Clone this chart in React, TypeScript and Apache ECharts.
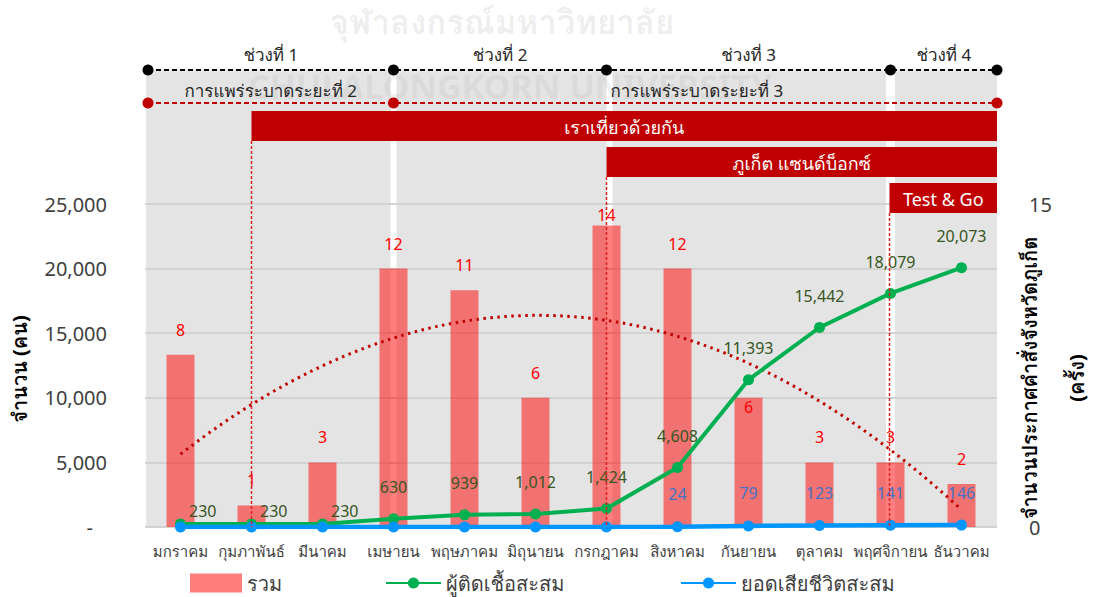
import React, { useEffect, useRef } from "react";
import * as echarts from "echarts";

// Months of 2021 (Thai)
const months = [
  "มกราคม",
  "กุมภาพันธ์",
  "มีนาคม",
  "เมษายน",
  "พฤษภาคม",
  "มิถุนายน",
  "กรกฎาคม",
  "สิงหาคม",
  "กันยายน",
  "ตุลาคม",
  "พฤศจิกายน",
  "ธันวาคม",
];

// Provincial orders issued each month (right axis)
const orderCounts = [8, 1, 3, 12, 11, 6, 14, 12, 6, 3, 3, 2];
// Cumulative infections (left axis)
const cumulativeCases = [230, 230, 230, 630, 939, 1012, 1424, 4608, 11393, 15442, 18079, 20073];
// Cumulative deaths (left axis)
const cumulativeDeaths = [0, 0, 0, 0, 0, 0, 0, 24, 79, 123, 141, 146];
// Months whose death total carries a label
const deathLabelFrom = 7;
// Months whose case label sits to the right of the point
const caseLabelsBeside = [0, 1, 2];

// Axis ranges
const leftMin = 0;
const leftMax = 25000;
const leftStep = 5000;
const rightMin = 0;
const rightMax = 15;
const rightStep = 15;

// Period bands along the top (month index where each boundary sits; -1 = chart edge)
const periodNames = ["ช่วงที่ 1", "ช่วงที่ 2", "ช่วงที่ 3", "ช่วงที่ 4"];
const periodEdges = [-1, 3, 6, 10, -1];
const waveNames = ["การแพร่ระบาดระยะที่ 2", "การแพร่ระบาดระยะที่ 3"];
const waveEdges = [-1, 3, -1];
// Tourism campaigns, starting month index
const campaignNames = ["เราเที่ยวด้วยกัน", "ภูเก็ต แซนด์บ็อกซ์", "Test & Go"];
const campaignStarts = [1, 6, 10];

const seriesNames = ["รวม", "ผู้ติดเชื้อสะสม", "ยอดเสียชีวิตสะสม"];
const leftAxisName = "จำนวน (คน)";
const rightAxisName = ["จำนวนประกาศคำสั่งจังหวัดภูเก็ต", "(ครั้ง)"];
const watermarkTh = "จุฬาลงกรณ์มหาวิทยาลัย";
const watermarkEn = "CHULALONGKORN UNIVERSITY";

const FONT = '"Noto Sans", Tahoma, Loma, Garuda, "Noto Sans Thai Looped", "Noto Sans Thai", sans-serif';
const DARK_RED = "#C00000";
const TEXT = "#404040";

// Second-order least-squares fit of the monthly order counts
function quadraticFit(ys: number[]) {
  const n = ys.length;
  let s0 = 0, s1 = 0, s2 = 0, s3 = 0, s4 = 0, t0 = 0, t1 = 0, t2 = 0;
  ys.forEach((y, i) => {
    const x = i + 1;
    s0 += 1; s1 += x; s2 += x * x; s3 += x ** 3; s4 += x ** 4;
    t0 += y; t1 += x * y; t2 += x * x * y;
  });
  const m = [
    [s0, s1, s2, t0],
    [s1, s2, s3, t1],
    [s2, s3, s4, t2],
  ];
  for (let c = 0; c < 3; c++) {
    for (let r = c + 1; r < 3; r++) {
      const f = m[r][c] / m[c][c];
      for (let k = c; k < 4; k++) m[r][k] -= f * m[c][k];
    }
  }
  const coef = [0, 0, 0];
  for (let r = 2; r >= 0; r--) {
    let v = m[r][3];
    for (let k = r + 1; k < 3; k++) v -= m[r][k] * coef[k];
    coef[r] = v / m[r][r];
  }
  const pts: number[][] = [];
  for (let s = 0; s <= (n - 1) * 10; s++) {
    const x = 1 + s / 10;
    pts.push([x, coef[0] + coef[1] * x + coef[2] * x * x]);
  }
  return pts;
}

export default function App() {
  const ref = useRef<HTMLDivElement>(null);

  useEffect(() => {
    if (!ref.current) return;
    const chart = echarts.init(ref.current, undefined, { renderer: "svg" });

    const barData = orderCounts.map((v, i) => {
      let label: any = { show: true, position: "top", distance: 17 };
      if (i === 8) label = { show: true, position: "insideTop", distance: 1 };
      if (i === 6) label = { show: true, position: "top", distance: 3 };
      return { value: v, label };
    });

    const caseData = cumulativeCases.map((v, i) => ({
      value: v,
      label: caseLabelsBeside.includes(i)
        ? { position: "right", distance: 3, offset: [0, -13] }
        : { position: "top", distance: 18 },
    }));

    const deathData = cumulativeDeaths.map((v, i) => ({
      value: v,
      label: { show: i >= deathLabelFrom },
    }));

    const legendText = { fontSize: 20, lineHeight: 20, color: TEXT, fontFamily: FONT };

    chart.setOption({
      animation: false,
      textStyle: { fontFamily: FONT },
      grid: { left: 145, right: 100, top: 204, bottom: 70, containLabel: false },
      legend: [
        {
          left: 190, top: 573, padding: 0, itemWidth: 52, itemHeight: 19, icon: "rect", itemGap: 5,
          data: [seriesNames[0]],
          textStyle: legendText,
        },
        {
          left: 385, top: 573, padding: 0, itemWidth: 55, itemHeight: 14, itemGap: 5,
          data: [seriesNames[1]],
          textStyle: legendText,
        },
        {
          left: 680, top: 573, padding: 0, itemWidth: 55, itemHeight: 14, itemGap: 5,
          data: [seriesNames[2]],
          textStyle: legendText,
        },
      ],
      xAxis: [
        {
          type: "category",
          data: months,
          axisLine: { show: false },
          axisTick: { show: false },
          axisLabel: { fontSize: 15, color: TEXT, margin: 16, interval: 0, fontFamily: FONT },
        },
        { type: "value", min: 0.5, max: 12.5, show: false },
      ],
      yAxis: [
        {
          type: "value",
          min: leftMin,
          max: leftMax,
          interval: leftStep,
          axisLine: { show: false },
          axisTick: { show: false },
          splitLine: { lineStyle: { color: "#d2d2d2", width: 2 } },
          axisLabel: {
            fontSize: 20,
            color: TEXT,
            margin: 38,
            fontFamily: FONT,
            formatter: (v: number) => (v === 0 ? "{d|-}" : v.toLocaleString("en-US")),
            rich: { d: { fontSize: 20, color: TEXT, padding: [0, 14, 0, 0] } },
          },
        },
        {
          type: "value",
          min: rightMin,
          max: rightMax,
          interval: rightStep,
          axisLine: { show: false },
          axisTick: { show: false },
          splitLine: { show: false },
          axisLabel: { fontSize: 20, color: TEXT, margin: 32, fontFamily: FONT },
        },
      ],
      series: [
        {
          name: seriesNames[0],
          type: "bar",
          yAxisIndex: 1,
          barWidth: 28,
          itemStyle: { color: "rgba(255,0,0,0.5)" },
          label: { color: "#FF0000", fontSize: 16, fontFamily: FONT },
          data: barData,
          z: 2,
        },
        {
          name: "trend",
          type: "line",
          xAxisIndex: 1,
          yAxisIndex: 1,
          showSymbol: false,
          silent: true,
          lineStyle: { color: DARK_RED, width: 3, type: [2.5, 4.5] },
          data: quadraticFit(orderCounts),
          z: 3,
        },
        {
          name: seriesNames[1],
          type: "line",
          symbol: "circle",
          symbolSize: 11,
          itemStyle: { color: "#00B050" },
          lineStyle: { color: "#00B050", width: 4 },
          label: { show: true, color: "#375623", fontSize: 16, fontFamily: FONT, formatter: (p: any) => p.value.toLocaleString("en-US") },
          data: caseData,
          z: 4,
        },
        {
          name: seriesNames[2],
          type: "line",
          symbol: "circle",
          symbolSize: 11,
          itemStyle: { color: "#0096FF" },
          lineStyle: { color: "#0096FF", width: 4.5 },
          label: { color: "#4472C4", fontSize: 16, position: "top", distance: 19, fontFamily: FONT, formatter: (p: any) => p.value.toLocaleString("en-US") },
          data: deathData,
          z: 5,
        },
      ],
    });

    // Annotation layer placed on the category scale
    const xc = (i: number) => chart.convertToPixel({ xAxisIndex: 0 }, i) as number;
    const band = xc(1) - xc(0);
    const plotL = xc(0) - band / 2;
    const plotR = xc(months.length - 1) + band / 2;
    const yZero = chart.convertToPixel({ yAxisIndex: 0 }, 0) as number;
    const edgeX = (e: number, first: boolean) => (e < 0 ? (first ? plotL + 3 : plotR) : xc(e));

    const yPeriod = 70;
    const yWave = 103;
    const campaignRows = [[111, 141], [147, 177], [183, 213]];

    const txt = (x: number, y: number, text: string, size: number, fill: string, extra: any = {}) => ({
      type: "text",
      x,
      y,
      z: extra.z ?? 8,
      silent: true,
      style: {
        text,
        fill,
        fontSize: size,
        lineHeight: extra.lineHeight ?? Math.round(size * 1.1),
        fontFamily: FONT,
        fontWeight: extra.fontWeight || "normal",
        align: extra.align || "center",
        verticalAlign: "middle",
        textAlign: extra.align || "center",
        textVerticalAlign: "middle",
      },
      rotation: extra.rotation || 0,
    });

    const g: any[] = [];

    // Grey panels with white gaps at the period boundaries
    const gaps = [xc(3), xc(6) + 3, xc(10)];
    const gapW = [6, 6, 9];
    const starts = [plotL + 1, ...gaps.map((x, i) => x + gapW[i] / 2)];
    const ends = [...gaps.map((x, i) => x - gapW[i] / 2), plotR];
    starts.forEach((s, i) => {
      g.push({
        type: "rect",
        z: -1,
        silent: true,
        shape: { x: s, y: yPeriod, width: ends[i] - s, height: yZero - yPeriod + 1 },
        style: { fill: "#E4E4E4" },
      });
    });

    // Watermark
    g.push(txt(502, 21, watermarkTh, 33, "rgba(150,150,150,0.16)", { fontWeight: "bold", z: 1, lineHeight: 32 }));
    g.push(txt(510, 86, watermarkEn, 34, "rgba(150,150,150,0.13)", { fontWeight: "bold", z: 1, lineHeight: 34 }));

    // Period line (black) and wave line (red)
    const periodXs = periodEdges.map((e, i) => edgeX(e, i === 0));
    g.push({
      type: "line", z: 6, silent: true,
      shape: { x1: periodXs[0], y1: yPeriod, x2: periodXs[periodXs.length - 1], y2: yPeriod },
      style: { stroke: "#000", lineWidth: 2, lineDash: [5, 3] },
    });
    periodXs.forEach((x) => g.push({ type: "circle", z: 7, silent: true, shape: { cx: x, cy: yPeriod, r: 5.5 }, style: { fill: "#000" } }));
    periodNames.forEach((n, i) => g.push(txt((periodXs[i] + periodXs[i + 1]) / 2, 54, n, 17, "#262626", { lineHeight: 18 })));

    const waveXs = waveEdges.map((e, i) => edgeX(e, i === 0));
    g.push({
      type: "line", z: 6, silent: true,
      shape: { x1: waveXs[0], y1: yWave, x2: waveXs[waveXs.length - 1], y2: yWave },
      style: { stroke: DARK_RED, lineWidth: 2, lineDash: [5, 3] },
    });
    waveXs.forEach((x) => g.push({ type: "circle", z: 7, silent: true, shape: { cx: x, cy: yWave, r: 5.5 }, style: { fill: DARK_RED } }));
    g.push(txt((waveXs[0] + waveXs[1]) / 2, 90, waveNames[0], 17, "#262626"));
    g.push(txt(xc(6) + 4, 90, waveNames[1], 17, "#262626", { align: "left" }));

    // Campaign bars with dashed start markers
    campaignNames.forEach((n, i) => {
      const x0 = xc(campaignStarts[i]) - (i === 2 ? 1 : 0);
      const [t, b] = campaignRows[i];
      g.push({
        type: "rect", z: 6, silent: true,
        shape: { x: x0, y: t, width: plotR - x0, height: b - t },
        style: { fill: DARK_RED },
      });
      g.push(txt((x0 + plotR) / 2, (t + b) / 2 + 1, n, 18, "#fff"));
      g.push({
        type: "line", z: 6, silent: true,
        shape: { x1: x0, y1: b, x2: x0, y2: yZero },
        style: { stroke: "#E02020", lineWidth: 1.5, lineDash: [3, 2] },
      });
    });

    // Axis titles
    g.push(txt(19, 369, leftAxisName, 20, "#000", { fontWeight: "bold", rotation: Math.PI / 2 }));
    g.push(txt(1029, 378, rightAxisName[0], 20, "#000", { fontWeight: "bold", rotation: Math.PI / 2 }));
    g.push(txt(1076, 378, rightAxisName[1], 20, "#000", { fontWeight: "bold", rotation: Math.PI / 2 }));

    chart.setOption({ graphic: g });

    return () => chart.dispose();
  }, []);

  return (
    <div
      ref={ref}
      style={{ position: "fixed", left: 0, top: 0, width: 1097, height: 597, background: "#fff" }}
    />
  );
}
